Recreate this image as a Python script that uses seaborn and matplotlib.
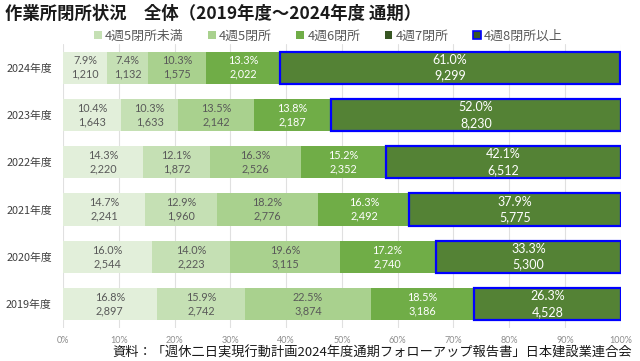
import matplotlib
matplotlib.use("Agg")
import matplotlib.pyplot as plt
import seaborn as sns
import pandas as pd
import numpy as np
from matplotlib.patches import Patch

years = ["2024年度", "2023年度", "2022年度", "2021年度", "2020年度", "2019年度"]
categories = ["4週5閉所未満", "4週5閉所", "4週6閉所", "4週7閉所", "4週8閉所以上"]
pct_lt5 = [7.9, 10.4, 14.3, 14.7, 16.0, 16.8]
pct_5 = [7.4, 10.3, 12.1, 12.9, 14.0, 15.9]
pct_6 = [10.3, 13.5, 16.3, 18.2, 19.6, 22.5]
pct_7 = [13.3, 13.8, 15.2, 16.3, 17.2, 18.5]
pct_8 = [61.0, 52.0, 42.1, 37.9, 33.3, 26.3]
cnt_lt5 = [1210, 1643, 2220, 2241, 2544, 2897]
cnt_5 = [1132, 1633, 1872, 1960, 2223, 2742]
cnt_6 = [1575, 2142, 2526, 2776, 3115, 3874]
cnt_7 = [2022, 2187, 2352, 2492, 2740, 3186]
cnt_8 = [9299, 8230, 6512, 5775, 5300, 4528]
x_ticks = [0, 10, 20, 30, 40, 50, 60, 70, 80, 90, 100]

pcts = [pct_lt5, pct_5, pct_6, pct_7, pct_8]
cnts = [cnt_lt5, cnt_5, cnt_6, cnt_7, cnt_8]
bar_colors = ["#e2efda", "#c5e0b4", "#a9d18e", "#70ad47", "#548235"]
legend_colors = ["#c5e0b4", "#a9d18e", "#70ad47", "#375623", "#375623"]
text_colors = ["#595959", "#595959", "#595959", "white", "white"]

sns.set_theme(style="white")
plt.rcParams["font.family"] = ["Noto Sans CJK JP", "DejaVu Sans"]
num_font = ["Lato", "Noto Sans CJK JP"]

fig = plt.figure(figsize=(6.4, 3.61), dpi=100)
ax = fig.add_axes([0.0984, 0.0925, 0.8716, 0.7855])

left = np.zeros(len(years))
for i, cat in enumerate(categories):
    df = pd.DataFrame({"year": years, "pct": pcts[i]})
    n_before = len(ax.patches)
    sns.barplot(data=df, x="pct", y="year", orient="h", color=bar_colors[i],
                width=0.68, saturation=1, ax=ax, zorder=2)
    new = ax.patches[n_before:]
    for j, p in enumerate(new):
        p.set_x(left[j])
        if i == 4:
            p.set_edgecolor("#0000ff")
            p.set_linewidth(1.6)
            p.set_zorder(3)
        else:
            p.set_edgecolor("none")
        cx = left[j] + pcts[i][j] / 2
        cy = p.get_y() + p.get_height() / 2
        fs = 9.0 if i == 4 else 7.8
        dy = 0.166 if i == 4 else 0.142
        ax.text(cx, cy - dy, f"{pcts[i][j]:.1f}%", ha="center", va="center",
                fontsize=fs, color=text_colors[i], zorder=4, family=num_font)
        ax.text(cx, cy + dy, f"{cnts[i][j]:,}", ha="center", va="center",
                fontsize=fs, color=text_colors[i], zorder=4, family=num_font)
    left = left + np.array(pcts[i])

ax.set_xlim(0, 100)
ax.set_ylim(5.5, -0.5)
ax.set_xticks(x_ticks)
ax.set_xticklabels([f"{t}%" for t in x_ticks], fontsize=6.5, color="#8c8c8c",
                   family=num_font)
ax.tick_params(axis="y", labelsize=7.8, labelcolor="#404040", length=0, pad=8)
ax.tick_params(axis="x", length=0, pad=6)
ax.set_xlabel("")
ax.set_ylabel("")
for s in ax.spines.values():
    s.set_visible(False)
ax.grid(axis="x", color="#e0e0e0", linewidth=0.8, zorder=0)
ax.set_axisbelow(True)

handles = []
for k, cat in enumerate(categories):
    if k == 4:
        handles.append(Patch(facecolor=legend_colors[k], edgecolor="#0000ff", linewidth=1.2, label=cat))
    else:
        handles.append(Patch(facecolor=legend_colors[k], edgecolor="none", label=cat))
fig.legend(handles=handles, loc="center", bbox_to_anchor=(0.513, 0.9), ncol=5,
           frameon=False, fontsize=9.3, handlelength=0.6, handleheight=0.6,
           handletextpad=0.25, columnspacing=1.9, labelcolor="#595959")

fig.text(0.008, 0.962, "作業所閉所状況　全体（2019年度～2024年度 通期）", fontsize=12.5,
         fontweight="bold", color="#1a1a1a", ha="left", va="center")
fig.text(0.988, 0.022, "資料：「週休二日実現行動計画2024年度通期フォローアップ報告書」日本建設業連合会",
         fontsize=9.5, color="#1a1a1a", ha="right", va="center")

fig.savefig("out.png", dpi=100)
